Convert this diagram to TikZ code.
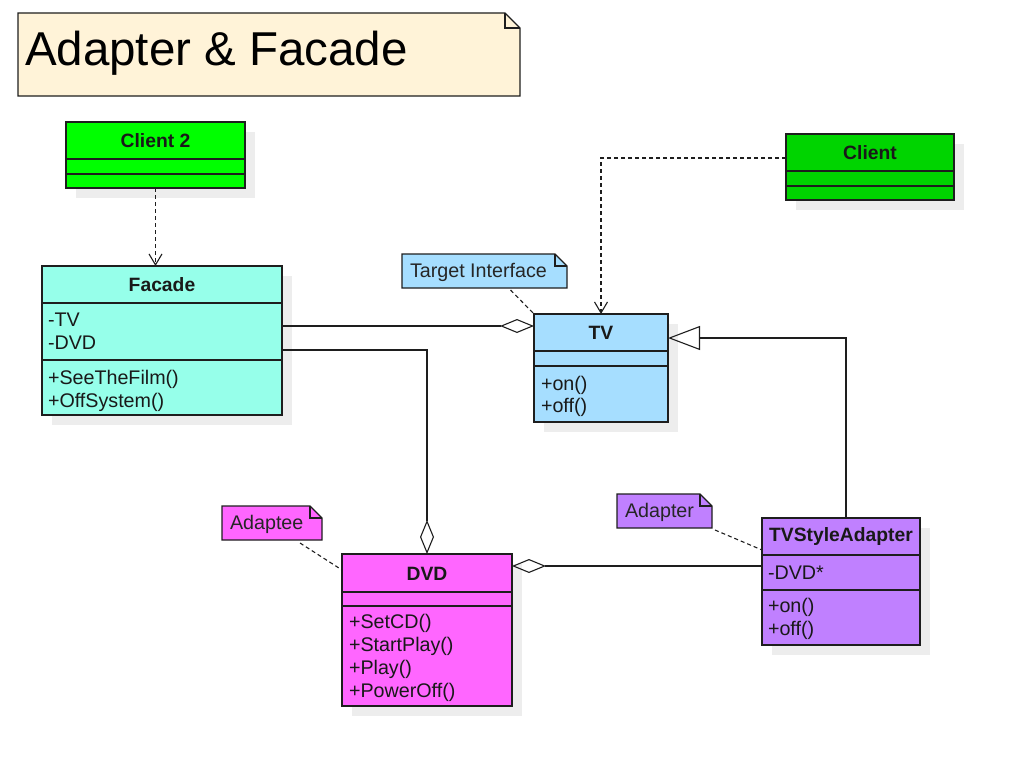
\documentclass[tikz,border=0pt]{standalone}
\usepackage{fontspec}
\setmainfont{Liberation Sans}
\usetikzlibrary{arrows.meta,shadows}
\definecolor{titlefill}{HTML}{FFF3D8}
\definecolor{c2fill}{HTML}{00FF00}
\definecolor{c1fill}{HTML}{00D400}
\definecolor{facfill}{HTML}{96FFEA}
\definecolor{tvfill}{HTML}{A6DEFF}
\definecolor{adfill}{HTML}{C080FF}
\definecolor{dvdfill}{HTML}{FF66FF}
\definecolor{edge}{HTML}{1E1E1E}
\definecolor{shade}{HTML}{EDEDED}
\begin{document}
\begin{tikzpicture}[x=1pt,y=-1pt,
  every node/.style={inner sep=0pt,outer sep=0pt},
  line/.style={draw=edge,line width=1.1pt},
  classbox/.style={line,rectangle,anchor=north west,
    general shadow={fill=shade,shadow xshift=10pt,shadow yshift=-10pt}},
  hdr/.style={font=\bfseries\fontsize{19.3}{23}\selectfont,text=black!90},
  mem/.style={font=\fontsize{19.7}{23}\selectfont,anchor=base west,text=black!90},
  noteframe/.style={rectangle,anchor=north west},
  noteline/.style={line},
  notetext/.style={font=\fontsize{19.7}{23}\selectfont,anchor=west,text=black!85},
  dep/.style={line,dash pattern=on 4pt off 3pt,-{Straight Barb[length=11pt,width=13pt,line width=1.1pt]}},
  agg/.style={line,-{Diamond[open,length=34pt,width=14pt,line width=1.1pt]}},
  gen/.style={line,-{Triangle[open,length=32pt,width=24pt,line width=1.1pt]}},
  anchorline/.style={line,dash pattern=on 4pt off 3pt}
]
\useasboundingbox (0,0) rectangle (1011,768);

% ---------- title note ----------
\node[noteframe,minimum width=502pt,minimum height=83pt] (title) at (18,13) {};
\filldraw[noteline,fill=titlefill] (title.north west) -- ([xshift=-15pt]title.north east)
  -- ([yshift=-15pt]title.north east) -- (title.south east) -- (title.south west) -- cycle;
\draw[noteline] ([xshift=-15pt]title.north east) |- ([yshift=-15pt]title.north east);
\node[anchor=base west,font=\fontsize{47.5}{52}\selectfont] (titletext) at (25,66) {Adapter \& Facade};

% ---------- Client 2 ----------
\node[classbox,fill=c2fill,minimum width=179pt,minimum height=66pt] (client2) at (66,122) {};
\draw[line] (66,159) -- (245,159);
\draw[line] (66,174) -- (245,174);
\node[hdr] (client2T) at (155.5,141) {Client 2};

% ---------- Client ----------
\node[classbox,fill=c1fill,minimum width=168pt,minimum height=66pt] (client) at (786,134) {};
\draw[line] (786,171) -- (954,171);
\draw[line] (786,186) -- (954,186);
\node[hdr] (clientT) at (870,153) {Client};

% ---------- Facade ----------
\node[classbox,fill=facfill,minimum width=240pt,minimum height=149pt] (facade) at (42,266) {};
\draw[line] (42,303) -- (282,303);
\draw[line] (42,360) -- (282,360);
\node[hdr] (facadeT) at (162,285) {Facade};
\node[mem] (facTV) at (48,326) {-TV};
\node[mem] (facDVD) at (48,349) {-DVD};
\node[mem] (facSee) at (48,384) {+SeeTheFilm()};
\node[mem] (facOff) at (48,407) {+OffSystem()};

% ---------- TV ----------
\node[classbox,fill=tvfill,minimum width=134pt,minimum height=108pt] (tv) at (534,314) {};
\draw[line] (534,351) -- (668,351);
\draw[line] (534,366) -- (668,366);
\node[hdr] (tvT) at (601,333) {TV};
\node[mem] (tvOn) at (541,390) {+on()};
\node[mem] (tvOff) at (541,412) {+off()};

% ---------- TVStyleAdapter ----------
\node[classbox,fill=adfill,minimum width=158pt,minimum height=127pt] (tvsa) at (762,518) {};
\draw[line] (762,555) -- (920,555);
\draw[line] (762,590) -- (920,590);
\node[hdr] (tvsaT) at (841,537) {TVStyleAdapter};
\node[mem] (tvsaDVD) at (768,579) {-DVD*};
\node[mem] (tvsaOn) at (768,612) {+on()};
\node[mem] (tvsaOff) at (768,635) {+off()};

% ---------- DVD ----------
\node[classbox,fill=dvdfill,minimum width=170pt,minimum height=152pt] (dvd) at (342,554) {};
\draw[line] (342,592) -- (512,592);
\draw[line] (342,606) -- (512,606);
\node[hdr] (dvdT) at (427,574) {DVD};
\node[mem] (dvdSet) at (349,628) {+SetCD()};
\node[mem] (dvdStart) at (349,651) {+StartPlay()};
\node[mem] (dvdPlay) at (349,674) {+Play()};
\node[mem] (dvdPow) at (349,697) {+PowerOff()};

% ---------- notes ----------
\node[noteframe,minimum width=165pt,minimum height=34pt] (tinote) at (402,254) {};
\filldraw[noteline,fill=tvfill] (tinote.north west) -- ([xshift=-12pt]tinote.north east)
  -- ([yshift=-12pt]tinote.north east) -- (tinote.south east) -- (tinote.south west) -- cycle;
\draw[noteline] ([xshift=-12pt]tinote.north east) |- ([yshift=-12pt]tinote.north east);
\node[notetext] (tinoteT) at ([xshift=8pt,yshift=-1pt]tinote.west) {Target Interface};

\node[noteframe,minimum width=95pt,minimum height=34pt] (adnote) at (617,494) {};
\filldraw[noteline,fill=adfill] (adnote.north west) -- ([xshift=-12pt]adnote.north east)
  -- ([yshift=-12pt]adnote.north east) -- (adnote.south east) -- (adnote.south west) -- cycle;
\draw[noteline] ([xshift=-12pt]adnote.north east) |- ([yshift=-12pt]adnote.north east);
\node[notetext] (adnoteT) at ([xshift=8pt,yshift=-1pt]adnote.west) {Adapter};

\node[noteframe,minimum width=100pt,minimum height=34pt] (aenote) at (222,506) {};
\filldraw[noteline,fill=dvdfill] (aenote.north west) -- ([xshift=-12pt]aenote.north east)
  -- ([yshift=-12pt]aenote.north east) -- (aenote.south east) -- (aenote.south west) -- cycle;
\draw[noteline] ([xshift=-12pt]aenote.north east) |- ([yshift=-12pt]aenote.north east);
\node[notetext] (aenoteT) at ([xshift=8pt,yshift=-1pt]aenote.west) {Adaptee};

% ---------- note anchors ----------
\draw[anchorline] ([xshift=26pt,yshift=-2pt]tinote.south) -- (tv.north west);
\draw[anchorline] ([xshift=3pt,yshift=-2pt]adnote.south east) -- ([yshift=-32pt]tvsa.north west);
\draw[anchorline] ([xshift=28pt,yshift=-3pt]aenote.south) -- ([yshift=-16pt]dvd.north west);

% ---------- connectors ----------
\draw[dep] (client2.south) -- (client2.south |- facade.north);
\draw[dep] ([yshift=9pt]client.west) -| (tv.north);
\draw[agg] ([yshift=14.5pt]facade.east) -- ([yshift=14.5pt]facade.east -| tv.west);
\draw[agg] ([yshift=-9.5pt]facade.east) -| (dvd.north);
\draw[gen] ([xshift=5pt]tvsa.north) |- ([yshift=30pt]tv.east);
\draw[agg] ([yshift=15.5pt]tvsa.west) -- ([yshift=15.5pt]tvsa.west -| dvd.east);
\end{tikzpicture}
\end{document}
